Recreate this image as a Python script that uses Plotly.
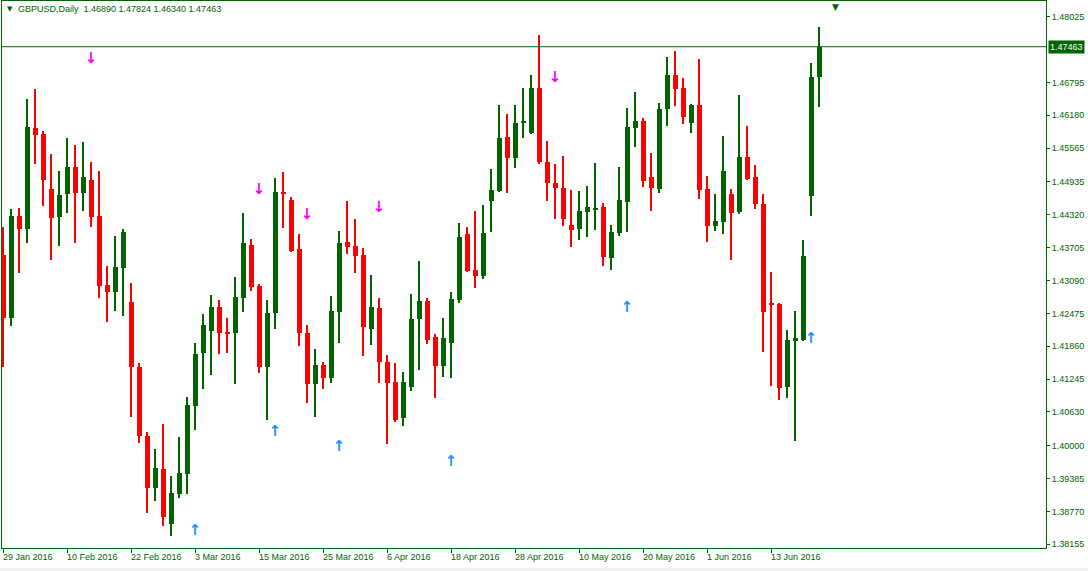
import plotly.graph_objects as go
import pandas as pd

# ---------------- data (GBPUSD daily) ----------------
start_date = "2016-01-29"
opens = [1.4357, 1.4239, 1.4430, 1.4405, 1.4594, 1.4583, 1.4480, 1.4428, 1.4471, 1.4521,
         1.4473, 1.4497, 1.4430, 1.4301, 1.4287, 1.4332, 1.4269, 1.4147, 1.4018, 1.3921,
         1.3956, 1.3853, 1.3910, 1.3947, 1.4074, 1.4173, 1.4215, 1.4259, 1.4213, 1.4211,
         1.4276, 1.4375, 1.4299, 1.4147, 1.4248, 1.4475, 1.4460, 1.4368, 1.4211, 1.4115,
         1.4151, 1.4127, 1.4250, 1.4381, 1.4374, 1.4357, 1.4218, 1.4258, 1.4157, 1.4119,
         1.4052, 1.4110, 1.4237, 1.4271, 1.4203, 1.4149, 1.4192, 1.4272, 1.4396, 1.4329,
         1.4317, 1.4458, 1.4476, 1.4577, 1.4538, 1.4604, 1.4585, 1.4669, 1.4531, 1.4491,
         1.4482, 1.4413, 1.4405, 1.4437, 1.4441, 1.4446, 1.4351, 1.4398, 1.4456, 1.4594,
         1.4607, 1.4503, 1.4480, 1.4630, 1.4693, 1.4669, 1.4604, 1.4637, 1.4480, 1.4411,
         1.4418, 1.4471, 1.4437, 1.4540, 1.4503, 1.4452, 1.4267, 1.4265, 1.4110, 1.4196,
         1.4198, 1.4467, 1.46890]
highs = [1.4409, 1.4443, 1.4445, 1.4649, 1.4667, 1.4589, 1.4546, 1.4514, 1.4576, 1.4562,
         1.4568, 1.4531, 1.4514, 1.4336, 1.4392, 1.4405, 1.4304, 1.4155, 1.4026, 1.3994,
         1.4041, 1.3943, 1.4016, 1.4091, 1.4192, 1.4246, 1.4282, 1.4272, 1.4239, 1.4316,
         1.4435, 1.4387, 1.4302, 1.4272, 1.4501, 1.4512, 1.4465, 1.4396, 1.4226, 1.4181,
         1.4157, 1.4280, 1.4402, 1.4458, 1.4424, 1.4370, 1.4319, 1.4276, 1.4170, 1.4155,
         1.4138, 1.4284, 1.4345, 1.4276, 1.4209, 1.4239, 1.4287, 1.4417, 1.4409, 1.4439,
         1.4450, 1.4518, 1.4637, 1.4620, 1.4637, 1.4669, 1.4693, 1.4768, 1.4570, 1.4527,
         1.4542, 1.4478, 1.4476, 1.4486, 1.4529, 1.4454, 1.4413, 1.4521, 1.4632, 1.4662,
         1.4613, 1.4547, 1.4641, 1.4727, 1.4738, 1.4688, 1.4639, 1.4723, 1.4504, 1.4471,
         1.4579, 1.4480, 1.4656, 1.4598, 1.4525, 1.4471, 1.4325, 1.4267, 1.4216, 1.4252,
         1.4385, 1.4716, 1.47824]
lows = [1.4147, 1.4224, 1.4323, 1.4379, 1.4527, 1.4448, 1.4347, 1.4374, 1.4435, 1.4379,
        1.4439, 1.4409, 1.4276, 1.4231, 1.4252, 1.4243, 1.4054, 1.4005, 1.3874, 1.3896,
        1.3850, 1.3831, 1.3902, 1.3910, 1.4029, 1.4106, 1.4132, 1.4171, 1.4173, 1.4115,
        1.4250, 1.4289, 1.4136, 1.4048, 1.4218, 1.4407, 1.4362, 1.4186, 1.4080, 1.4054,
        1.4106, 1.4117, 1.4192, 1.4359, 1.4323, 1.4168, 1.4188, 1.4117, 1.4003, 1.4044,
        1.4037, 1.4102, 1.4142, 1.4190, 1.4089, 1.4128, 1.4127, 1.4267, 1.4325, 1.4295,
        1.4312, 1.4400, 1.4475, 1.4473, 1.4519, 1.4576, 1.4583, 1.4527, 1.4458, 1.4424,
        1.4411, 1.4372, 1.4385, 1.4390, 1.4403, 1.4336, 1.4329, 1.4392, 1.4400, 1.4559,
        1.4484, 1.4439, 1.4473, 1.4598, 1.4635, 1.4602, 1.4585, 1.4461, 1.4381, 1.4402,
        1.4396, 1.4347, 1.4433, 1.4497, 1.4443, 1.4175, 1.4112, 1.4085, 1.4089, 1.4009,
        1.4196, 1.4430, 1.46340]
closes = [1.4239, 1.4430, 1.4405, 1.4596, 1.4581, 1.4497, 1.4426, 1.4469, 1.4521, 1.4473,
          1.4503, 1.4428, 1.4299, 1.4287, 1.4334, 1.4400, 1.4147, 1.4018, 1.3921, 1.3958,
          1.3867, 1.3911, 1.3949, 1.4076, 1.4171, 1.4226, 1.4259, 1.4211, 1.4209, 1.4278,
          1.4379, 1.4297, 1.4147, 1.4248, 1.4475, 1.4471, 1.4364, 1.4211, 1.4115, 1.4151,
          1.4127, 1.4252, 1.4379, 1.4372, 1.4355, 1.4222, 1.4259, 1.4157, 1.4117, 1.4048,
          1.4119, 1.4237, 1.4271, 1.4198, 1.4149, 1.4201, 1.4274, 1.4390, 1.4327, 1.4317,
          1.4398, 1.4478, 1.4576, 1.4538, 1.4604, 1.4607, 1.4669, 1.4531, 1.4491, 1.4482,
          1.4424, 1.4403, 1.4439, 1.4446, 1.4445, 1.4353, 1.4400, 1.4460, 1.4596, 1.4607,
          1.4495, 1.4482, 1.4630, 1.4693, 1.4667, 1.4615, 1.4637, 1.4478, 1.4411, 1.4420,
          1.4514, 1.4435, 1.4540, 1.4499, 1.4452, 1.4250, 1.4263, 1.4108, 1.4198, 1.4201,
          1.4355, 1.4690, 1.47463]

# fractal-style arrows (bar index, price)
down_arrow_idx = [11, 32, 38, 47, 69]
down_arrow_price = [1.4723, 1.4477, 1.4431, 1.4444, 1.4687]
up_arrow_idx = [24, 34, 42, 56, 78, 101]
up_arrow_price = [1.3839, 1.4026, 1.3997, 1.3969, 1.4258, 1.4199]

# axis ticks
x_tick_idx = [0, 8, 16, 24, 32, 40, 48, 56, 64, 72, 80, 88, 96]
x_tick_labels = ["29 Jan 2016", "10 Feb 2016", "22 Feb 2016", "3 Mar 2016", "15 Mar 2016",
                 "25 Mar 2016", "6 Apr 2016", "18 Apr 2016", "28 Apr 2016", "10 May 2016",
                 "20 May 2016", "1 Jun 2016", "13 Jun 2016"]
y_tick_vals = [1.48025, 1.46795, 1.46180, 1.45565, 1.44935, 1.44320, 1.43705, 1.43090,
               1.42475, 1.41860, 1.41245, 1.40630, 1.40000, 1.39385, 1.38770, 1.38155]

# ---------------- styling ----------------
GREEN = "#006400"
RED = "#FF0000"
FONT = "Tahoma, Liberation Sans, Arial, sans-serif"

n = len(opens)
dates = pd.bdate_range(start_date, periods=n)
idx = list(range(n))
colors = [GREEN if c >= o else RED for o, c in zip(opens, closes)]
body_base = [min(o, c) for o, c in zip(opens, closes)]
body_len = [max(abs(c - o), 0.00019) for o, c in zip(opens, closes)]
wick_len = [h - l for h, l in zip(highs, lows)]
hover = [f"{d:%d %b %Y}<br>O {o:.5f}<br>H {h:.5f}<br>L {l:.5f}<br>C {c:.5f}"
         for d, o, h, l, c in zip(dates, opens, highs, lows, closes)]

fig = go.Figure()
fig.add_trace(go.Bar(x=idx, y=wick_len, base=lows, width=0.125,
                     marker=dict(color=colors, line=dict(width=0)),
                     hovertext=hover, hoverinfo="text"))
fig.add_trace(go.Bar(x=idx, y=body_len, base=body_base, width=0.625,
                     marker=dict(color=colors, line=dict(width=0)),
                     hovertext=hover, hoverinfo="text"))
fig.add_trace(go.Scatter(x=down_arrow_idx, y=down_arrow_price, mode="text",
                         text=["↓"] * len(down_arrow_idx), textposition="middle center",
                         textfont=dict(color="#FF00FF", size=15, family="DejaVu Sans",
                                       weight="bold"),
                         hoverinfo="skip"))
fig.add_trace(go.Scatter(x=up_arrow_idx, y=up_arrow_price, mode="text",
                         text=["↑"] * len(up_arrow_idx), textposition="middle center",
                         textfont=dict(color="#1E90FF", size=15, family="DejaVu Sans",
                                       weight="bold"),
                         hoverinfo="skip"))

annotations = []
for ti, tl in zip(x_tick_idx, x_tick_labels):
    annotations.append(dict(x=ti, y=0, xref="x", yref="paper", xanchor="left", yanchor="top",
                            text=tl, showarrow=False, xshift=-2, yshift=-2,
                            font=dict(family=FONT, size=9, color=GREEN)))
title_txt = (f"GBPUSD,Daily\u00a0\u00a0{opens[-1]:.5f} {highs[-1]:.5f} "
             f"{lows[-1]:.5f} {closes[-1]:.5f}")
annotations.append(dict(x=0, y=1, xref="paper", yref="paper", xanchor="left", yanchor="top",
                        text=title_txt, showarrow=False, xshift=14, yshift=-1,
                        font=dict(family=FONT, size=9, color=GREEN)))
annotations.append(dict(x=0, y=1, xref="paper", yref="paper", xanchor="left", yanchor="top",
                        text="▼", showarrow=False, xshift=3, yshift=-2,
                        font=dict(family="DejaVu Sans", size=7, color=GREEN)))
annotations.append(dict(x=1, y=closes[-1], xref="paper", yref="y", xanchor="left",
                        yanchor="middle", text=f"{closes[-1]:.5f}", showarrow=False,
                        xshift=2, bgcolor=GREEN, borderpad=1,
                        font=dict(family=FONT, size=9, color="white")))
annotations.append(dict(x=104, y=1, xref="x", yref="paper", xanchor="center", yanchor="top",
                        text="▼", showarrow=False, yshift=1,
                        font=dict(family="DejaVu Sans", size=9, color=GREEN)))

shapes = [
    dict(type="line", xref="paper", yref="y", x0=0, x1=1, y0=closes[-1], y1=closes[-1],
         line=dict(color=GREEN, width=1)),
    dict(type="rect", xref="paper", yref="paper", x0=-0.01, x1=1.05, y0=-0.045, y1=-0.036,
         fillcolor="#F0F0F0", line=dict(width=0), layer="below"),
]

fig.update_layout(
    width=1088, height=571,
    margin=dict(l=2, r=42, t=1, b=23, autoexpand=False),
    paper_bgcolor="white", plot_bgcolor="white",
    barmode="overlay", bargap=0, showlegend=False,
    annotations=annotations, shapes=shapes,
    xaxis=dict(range=[-0.125, 130.375], showgrid=False, zeroline=False,
               showline=True, linecolor=GREEN, linewidth=1, mirror=True,
               ticks="outside", ticklen=4, tickcolor=GREEN, tickwidth=1,
               tickvals=x_tick_idx, showticklabels=False, automargin=False,
               fixedrange=True),
    yaxis=dict(range=[1.380856, 1.483183], side="right", showgrid=False, zeroline=False,
               showline=True, linecolor=GREEN, linewidth=1, mirror=True,
               ticks="outside", ticklen=3, tickcolor=GREEN, tickwidth=1,
               tickvals=y_tick_vals, ticktext=[f"{v:.5f}" for v in y_tick_vals],
               tickfont=dict(family=FONT, size=9, color=GREEN), automargin=False,
               fixedrange=True),
)

fig.write_html("out.html",
               config={"displayModeBar": False},
               post_script="document.body.style.margin='0px';"
                           "document.body.style.overflow='hidden';")
